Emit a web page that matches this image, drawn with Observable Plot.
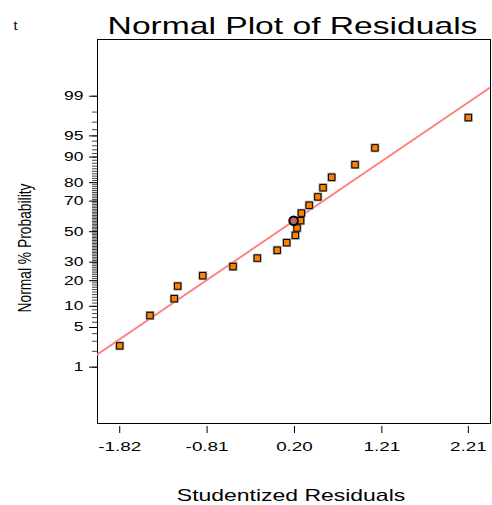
<!DOCTYPE html>
<html><head><meta charset="utf-8">
<script src="https://cdn.jsdelivr.net/npm/d3@7"></script>
<script src="https://cdn.jsdelivr.net/npm/@observablehq/plot@0.6"></script>
<style>
body{margin:0;background:#fff}
svg{display:block}
</style>
</head><body><div id="chart"></div>
<script>
// ---- data ----
const title = "Normal Plot of Residuals";
const xLabel = "Studentized Residuals";
const yLabel = "Normal % Probability";
const cornerMark = "t";
const residuals = [-1.82, -1.47, -1.19, -1.15, -0.86, -0.51, -0.23, 0.00, 0.11, 0.21,
                   0.23, 0.27, 0.28, 0.37, 0.47, 0.53, 0.63, 0.90, 1.13, 2.21];
const probPct = [2.5, 7.5, 12.5, 17.5, 22.5, 27.5, 32.5, 37.5, 42.5, 47.5,
                 52.5, 57.5, 62.5, 67.5, 72.5, 77.5, 82.5, 87.5, 92.5, 97.5];
const highlightX = [0.19];
const highlightP = [57.5];
const fitX = [-2.08, 2.47];
const fitP = [1.75, 99.35];
const xTicks = [-1.82, -0.81, 0.20, 1.21, 2.21];
const xTickLabels = ["-1.82", "-0.81", "0.20", "1.21", "2.21"];
const yTicks = [1, 5, 10, 20, 30, 50, 70, 80, 90, 95, 99];
const yMinorTicks = d3.range(1, 100);
const xDomain = [-2.077, 2.466];
const zDomain = [-3.345, 3.30];

// inverse normal CDF (probability scale transform)
function probit(p){
  const a=[-3.969683028665376e+01,2.209460984245205e+02,-2.759285104469687e+02,1.383577518672690e+02,-3.066479806614716e+01,2.506628277459239e+00];
  const b=[-5.447609879822406e+01,1.615858368580409e+02,-1.556989798598866e+02,6.680131188771972e+01,-1.328068155288572e+01];
  const c=[-7.784894002430293e-03,-3.223964580411365e-01,-2.400758277161838e+00,-2.549732539343734e+00,4.374664141464968e+00,2.938163982698783e+00];
  const d=[7.784695709041462e-03,3.224671290700398e-01,2.445134137142996e+00,3.754408661907416e+00];
  const pl=0.02425, ph=1-pl; let q,r;
  if(p<pl){q=Math.sqrt(-2*Math.log(p));return (((((c[0]*q+c[1])*q+c[2])*q+c[3])*q+c[4])*q+c[5])/((((d[0]*q+d[1])*q+d[2])*q+d[3])*q+1);}
  if(p<=ph){q=p-0.5;r=q*q;return (((((a[0]*r+a[1])*r+a[2])*r+a[3])*r+a[4])*r+a[5])*q/(((((b[0]*r+b[1])*r+b[2])*r+b[3])*r+b[4])*r+1);}
  q=Math.sqrt(-2*Math.log(1-p));return -(((((c[0]*q+c[1])*q+c[2])*q+c[3])*q+c[4])*q+c[5])/((((d[0]*q+d[1])*q+d[2])*q+d[3])*q+1);
}
const z = pct => probit(pct / 100);

const points = residuals.map((r, i) => ({r, p: probPct[i]}));
const highlight = highlightX.map((r, i) => ({r, p: highlightP[i]}));
const fit = fitX.map((r, i) => ({r, p: fitP[i]}));
const xLab = new Map(xTicks.map((t, i) => [t, xTickLabels[i]]));
const yLab = new Map(yTicks.map(t => [z(t), String(t)]));

const font = "Arial, 'Liberation Sans', sans-serif";

const plot = Plot.plot({
  width: 492, height: 505,
  marginLeft: 97, marginRight: 2, marginTop: 39, marginBottom: 79,
  x: {domain: xDomain},
  y: {domain: zDomain},
  style: {fontFamily: font, background: "white", color: "black"},
  marks: [
    Plot.frame({stroke: "black", strokeWidth: 1, insetBottom: 3}),
    Plot.axisY(yMinorTicks.map(z), {tickSize: 5, tickFormat: () => "", label: null, stroke: "#444"}),
    Plot.axisY(yTicks.map(z), {tickSize: 8, tickPadding: 6, tickFormat: d => yLab.get(d), fontSize: 12, label: null}),
    Plot.axisX(xTicks, {tickSize: 7, tickPadding: 8, tickFormat: d => xLab.get(d), fontSize: 13, label: null}),
    Plot.line(fit, {x: "r", y: d => z(d.p), stroke: "#ff7f7f", strokeWidth: 2, clip: true}),
    Plot.dot(points, {x: "r", y: d => z(d.p), symbol: "square", r: 4.3, fill: "none", stroke: "#999", strokeWidth: 1.2}),
    Plot.dot(points, {x: "r", y: d => z(d.p), symbol: "square", r: 3.6, fill: "#ff8000", stroke: "black", strokeWidth: 1}),
    Plot.dot(highlight, {x: "r", y: d => z(d.p), r: 4.3, fill: "#c06466", stroke: "black", strokeWidth: 2}),
    Plot.text([title], {frameAnchor: "top", lineAnchor: "bottom", dx: -1.5, dy: -6, fontSize: 24, fill: "black"}),
    Plot.text([xLabel], {frameAnchor: "bottom", lineAnchor: "bottom", dx: -3, dy: 74, fontSize: 17, fill: "black"}),
    Plot.text([yLabel], {frameAnchor: "left", lineAnchor: "middle", textAnchor: "start", rotate: -90, dx: -73, dy: 79.5, fontSize: 19, fill: "black"}),
    Plot.text([cornerMark], {frameAnchor: "top-left", lineAnchor: "bottom", textAnchor: "start", dx: -84, dy: -10, fontSize: 12, fill: "black"})
  ]
});

document.getElementById("chart").append(plot);

// horizontally stretched lettering, as in the reference
const factors = new Map([[title, 1.4], [xLabel, 1.35], [cornerMark, 1.2]]);
plot.querySelectorAll("text").forEach(t => {
  const s = t.textContent;
  if (!s) return;
  let L = 0;
  try { L = t.getComputedTextLength(); } catch (e) {}
  if (!(L > 0)) { try { L = t.getBBox().width; } catch (e) {} }
  if (!(L > 0)) return;
  const target = s === yLabel ? 129 : L * (factors.get(s) || 1.45);
  t.setAttribute("textLength", target.toFixed(1));
  t.setAttribute("lengthAdjust", "spacingAndGlyphs");
});
</script>
</body></html>
